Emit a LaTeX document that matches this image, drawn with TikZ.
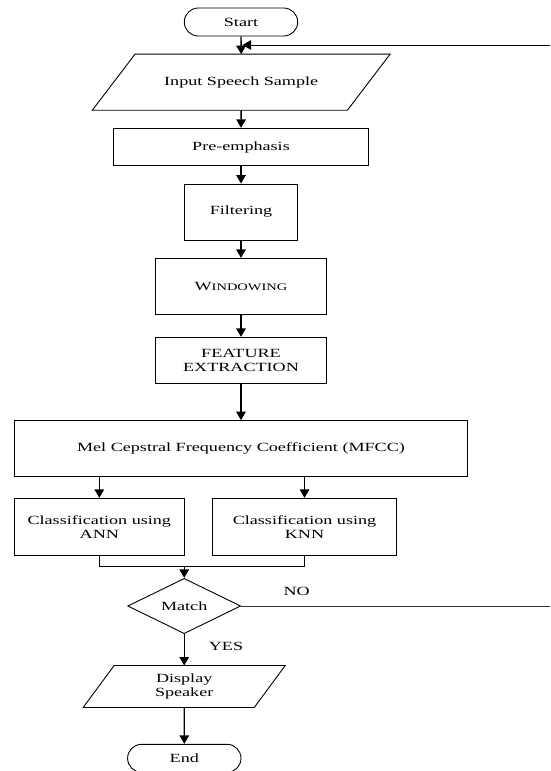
\documentclass[tikz,border=0pt]{standalone}
\usepackage{fontspec}
\setmainfont{Liberation Serif}[FakeStretch=1.45]
\usetikzlibrary{arrows.meta,shapes.geometric,calc}
\newcommand\dfont{\fontsize{12.5}{14.2}\selectfont}
\begin{document}
\begin{tikzpicture}[x=1pt,y=1pt,
  box/.style={draw, line width=0.9pt, rectangle, align=center, inner sep=0pt, font=\dfont},
  term/.style={draw, line width=0.9pt, rectangle, rounded corners=14pt, minimum width=113.4pt, minimum height=28pt, inner sep=0pt, font=\dfont},
  io/.style={rectangle, align=center, inner sep=0pt, font=\dfont},
  dia/.style={draw, line width=0.9pt, diamond, minimum width=113pt, minimum height=55.3pt, inner sep=0pt, font=\dfont},
  lbl/.style={inner sep=0pt, font=\dfont},
  flow/.style={line width=1.4pt, -{Triangle[length=8.5pt,width=9.5pt]}},
  thin/.style={line width=0.9pt},
  pline/.style={line width=0.9pt, line join=miter}]
\useasboundingbox (0,0) rectangle (550,-771);

% nodes
\node[term] (start) at (241,-22) {Start};
\node[io, minimum width=254.7pt, minimum height=55.7pt] (in) at (241.2,-82.2) {Input Speech Sample};
\draw[pline] ($(in.north west)+(21.35,0)$) -- ($(in.north east)+(21.35,0)$) -- ($(in.south east)-(21.35,0)$) -- ($(in.south west)-(21.35,0)$) -- cycle;
\node[box, minimum width=255pt, minimum height=37.4pt] (pre) at (241,-147) {Pre-emphasis};
\node[box, minimum width=113.4pt, minimum height=56pt] (filt) at (241,-212) {Filtering};
\node[box, minimum width=170.3pt, minimum height=56pt] (win) at (241,-286.3) {W{\fontsize{10}{12}\selectfont INDOWING}};
\node[box, minimum width=170.3pt, minimum height=46pt] (feat) at (241,-360.3) {FEATURE\\EXTRACTION};
\node[box, minimum width=453.4pt, minimum height=55.3pt] (mfcc) at (241,-448.3) {Mel Cepstral Frequency Coefficient (MFCC)};
\node[box, minimum width=170pt, minimum height=56.7pt] (ann) at (99.3,-526.7) {Classification using\\ANN};
\node[box, minimum width=184.4pt, minimum height=56.7pt] (knn) at (304.5,-526.7) {Classification using\\KNN};
\node[dia] (match) at (184.2,-606) {Match};
\node[io, minimum width=170.7pt, minimum height=41.6pt] (disp) at (184.2,-686.5) {Display\\Speaker};
\draw[pline] ($(disp.north west)+(15.5,0)$) -- ($(disp.north east)+(15.5,0)$) -- ($(disp.south east)-(15.5,0)$) -- ($(disp.south west)-(15.5,0)$) -- cycle;
\node[term] (end) at (184.3,-758.3) {End};

\node[lbl] (no) at (296.7,-591.7) {NO};
\node[lbl] (yes) at (226,-646.7) {YES};

% coordinates
\coordinate (fb) at (241,-45);
\coordinate (fbR) at (550,-45);
\coordinate (noR) at (550,-606);
\coordinate (mg) at (184.2,-566.7);

% connectors
\draw[flow] (start.south) -- (in.north);
\draw[thin, -{Triangle[length=8.5pt,width=9.5pt]}] (fbR) -- ($(fb)+(1.5,0)$);
\draw[flow] (in.south) -- (pre.north);
\draw[flow] (pre.south) -- (filt.north);
\draw[flow] (filt.south) -- (win.north);
\draw[flow] (win.south) -- (feat.north);
\draw[flow] (feat.south) -- (mfcc.north);
\draw[flow] (ann.north |- mfcc.south) -- (ann.north);
\draw[flow] (knn.north |- mfcc.south) -- (knn.north);
\draw[thin] (ann.south) |- (mg);
\draw[line width=1.5pt] (mg) -| (knn.south);
\draw[flow] (mg) -- (match.north);
\draw[thin, black!80] (match.east) -- (noR);
\draw[flow] (match.south) -- (disp.north);
\draw[flow] (disp.south) -- (end.north);
\end{tikzpicture}
\end{document}
